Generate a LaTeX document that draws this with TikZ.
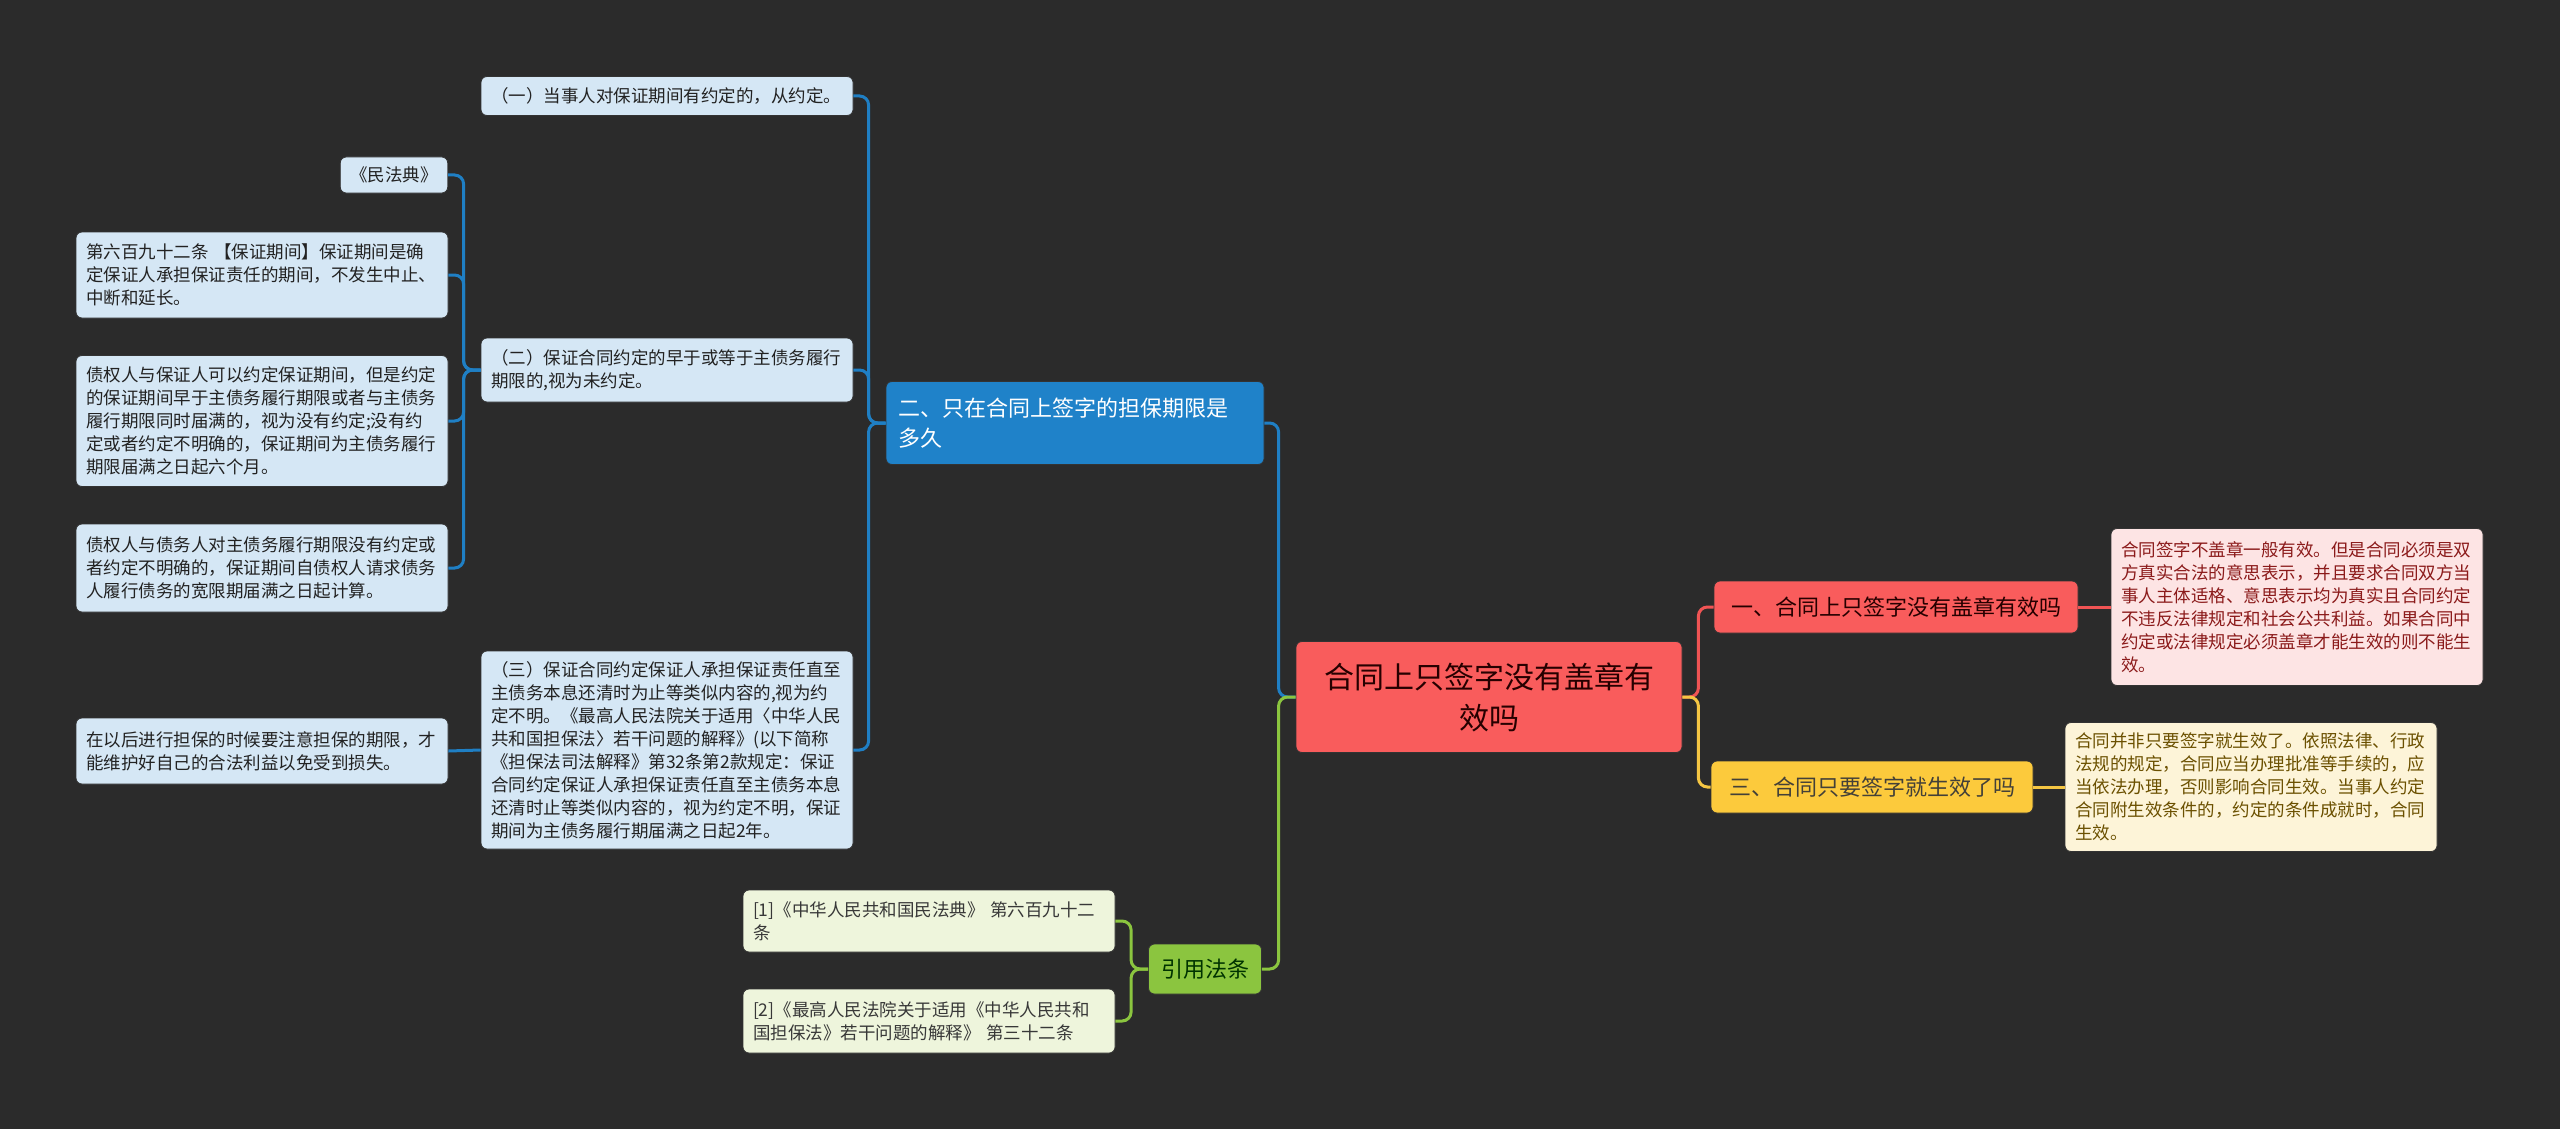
\documentclass[tikz,border=0pt]{standalone}
\usepackage{fontspec}
\setmainfont{Noto Sans CJK SC}
\definecolor{bg}{HTML}{2B2B2B}
\definecolor{bleaf}{HTML}{D5E7F5}
\definecolor{bmain}{HTML}{1F82C9}
\definecolor{bline}{HTML}{1F7FC4}
\definecolor{rmain}{HTML}{F95C5C}
\definecolor{rline}{HTML}{F05454}
\definecolor{rleaf}{HTML}{FDE4E4}
\definecolor{rtext}{HTML}{8B1A1A}
\definecolor{ymain}{HTML}{FCCA3C}
\definecolor{yline}{HTML}{F5C643}
\definecolor{yleaf}{HTML}{FDF4D8}
\definecolor{ytext}{HTML}{6B5000}
\definecolor{gmain}{HTML}{8BC53F}
\definecolor{gline}{HTML}{8BC53F}
\definecolor{gleaf}{HTML}{EEF5DC}
\definecolor{darktext}{HTML}{222222}
\tikzset{
  box/.style={rounded corners=6pt, draw=black!80, line width=0.8pt, inner sep=0pt},
  leaf/.style={box, align=left, text width=352pt, inner xsep=10pt, inner ysep=9pt,
    font=\fontsize{17.5}{23}\selectfont},
  blueleaf/.style={leaf, fill=bleaf, text=darktext},
  greenleaf/.style={leaf, fill=gleaf, text=darktext!90},
  branch/.style={box, align=left, inner xsep=12pt, inner ysep=12pt,
    font=\fontsize{22}{30}\selectfont},
  conn/.style={line width=3pt, rounded corners=9pt},
}
\begin{document}
\begin{tikzpicture}[x=1pt,y=-1pt]
\fill[bg] (0,0) rectangle (2560,1129);
\useasboundingbox (0,0) rectangle (2560,1129);

% root
\node[box, fill=rmain, text=black!85!red, align=center, minimum width=386pt, minimum height=111pt,
  font=\fontsize{30}{41}\selectfont] (root) at (1489,697) {合同上只签字没有盖章有\\效吗};

% right side
\node[branch, fill=rmain, text=black!85!red, minimum width=364pt, minimum height=52pt] (n1) at (1896,607) {一、合同上只签字没有盖章有效吗};
\node[leaf, fill=rleaf, text=rtext, minimum height=157pt] (pink) at (2297,607) {合同签字不盖章一般有效。但是合同必须是双\\方真实合法的意思表示，并且要求合同双方当\\事人主体适格、意思表示均为真实且合同约定\\不违反法律规定和社会公共利益。如果合同中\\约定或法律规定必须盖章才能生效的则不能生\\效。};
\node[branch, fill=ymain, text=black!85!yellow, minimum width=322pt, minimum height=52pt] (n3) at (1872,787) {三、合同只要签字就生效了吗};
\node[leaf, fill=yleaf, text=ytext, minimum height=129pt] (yl) at (2251,787) {合同并非只要签字就生效了。依照法律、行政\\法规的规定，合同应当办理批准等手续的，应\\当依法办理，否则影响合同生效。当事人约定\\合同附生效条件的，约定的条件成就时，合同\\生效。};

% left blue branch
\node[branch, fill=bmain, text=white, text width=354pt, minimum height=83pt] (n2) at (1075,423) {二、只在合同上签字的担保期限是\\多久};
\node[blueleaf, minimum height=39pt] (a1) at (667,96) {（一）当事人对保证期间有约定的，从约定。};
\node[blueleaf, minimum height=64pt] (a2) at (667,370) {（二）保证合同约定的早于或等于主债务履行\\期限的,视为未约定。};
\node[blueleaf, minimum height=198pt] (a3) at (667,750) {（三）保证合同约定保证人承担保证责任直至\\主债务本息还清时为止等类似内容的,视为约\\定不明。《最高人民法院关于适用〈中华人民\\共和国担保法〉若干问题的解释》(以下简称\\《担保法司法解释》第32条第2款规定：保证\\合同约定保证人承担保证责任直至主债务本息\\还清时止等类似内容的，视为约定不明，保证\\期间为主债务履行期届满之日起2年。};
\node[box, fill=bleaf, text=darktext, inner xsep=10pt, minimum height=36pt,
  font=\fontsize{17.5}{23}\selectfont] (b1) at (394,175) {《民法典》};
\node[blueleaf, minimum height=86pt] (b2) at (262,275) {第六百九十二条 【保证期间】保证期间是确\\定保证人承担保证责任的期间，不发生中止、\\中断和延长。};
\node[blueleaf, minimum height=131pt] (b3) at (262,421) {债权人与保证人可以约定保证期间，但是约定\\的保证期间早于主债务履行期限或者与主债务\\履行期限同时届满的，视为没有约定;没有约\\定或者约定不明确的，保证期间为主债务履行\\期限届满之日起六个月。};
\node[blueleaf, minimum height=88pt] (b4) at (262,568) {债权人与债务人对主债务履行期限没有约定或\\者约定不明确的，保证期间自债权人请求债务\\人履行债务的宽限期届满之日起计算。};
\node[blueleaf, minimum height=66pt] (c1) at (262,751) {在以后进行担保的时候要注意担保的期限，才\\能维护好自己的合法利益以免受到损失。};

% green branch
\node[branch, fill=gmain, text=black!80!green, minimum width=113pt, minimum height=50pt] (cite) at (1205,969) {引用法条};
\node[greenleaf, minimum height=62pt] (r1) at (929,921) {[1]《中华人民共和国民法典》 第六百九十二\\条};
\node[greenleaf, minimum height=64pt] (r2) at (929,1021) {[2]《最高人民法院关于适用《中华人民共和\\国担保法》若干问题的解释》 第三十二条};

% connectors
\draw[conn, rline] (root.east) -- ++(16,0) |- (n1.west);
\draw[conn, yline] (root.east) -- ++(16,0) |- (n3.west);
\draw[conn, bline] (root.west) -- ++(-17,0) |- (n2.east);
\draw[conn, gline] (root.west) -- ++(-17,0) |- (cite.east);
\draw[conn, rline] (n1.east) -- (pink.west);
\draw[conn, yline] (n3.east) -- (yl.west);
\draw[conn, bline] (n2.west) -- ++(-17,0) |- (a1.east);
\draw[conn, bline] (n2.west) -- ++(-17,0) |- (a2.east);
\draw[conn, bline] (n2.west) -- ++(-17,0) |- (a3.east);
\draw[conn, bline] (a2.west) -- ++(-17,0) |- (b1.east);
\draw[conn, bline] (a2.west) -- ++(-17,0) |- (b2.east);
\draw[conn, bline] (a2.west) -- ++(-17,0) |- (b3.east);
\draw[conn, bline] (a2.west) -- ++(-17,0) |- (b4.east);
\draw[conn, bline] (a3.west) -- (c1.east);
\draw[conn, gline] (cite.west) -- ++(-17,0) |- (r1.east);
\draw[conn, gline] (cite.west) -- ++(-17,0) |- (r2.east);
\end{tikzpicture}
\end{document}
